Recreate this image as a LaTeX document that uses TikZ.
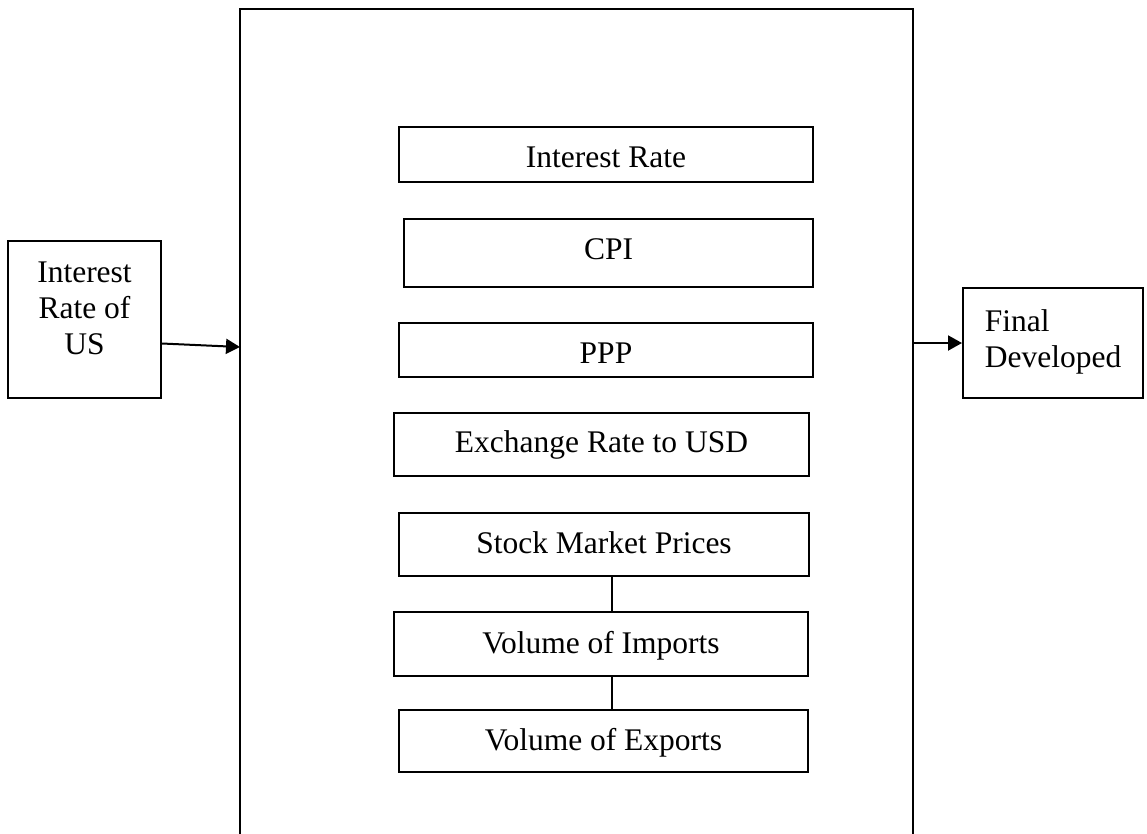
\documentclass[tikz,border=0pt]{standalone}
\usepackage{fontspec}
\setmainfont{Liberation Serif}
\usetikzlibrary{arrows.meta}
\tikzset{
  every node/.style={font=\fontsize{31.5}{36}\selectfont},
  box/.style={draw, line width=2pt, inner sep=0pt, text depth=0pt},
  frameline/.style={line width=2pt},
  conn/.style={line width=2pt},
  arr/.style={line width=2pt, -{Triangle[length=14pt,width=15pt]}}
}
\begin{document}
\begin{tikzpicture}[x=1pt,y=-1pt]
\useasboundingbox (0,0) rectangle (1147,833);
% outer frame (open at the bottom)
\draw[frameline] (240,840) -- (240,9) -- (913,9) -- (913,840);
\coordinate (inL) at (240,347);
\coordinate (outR) at (913,343);
% side boxes
\node[box, minimum width=153pt, minimum height=157pt, align=center, text depth=22pt] (us) at (84.5,319.5) {Interest\\Rate of\\US};
\node[box, minimum width=180pt, minimum height=110pt, align=left, text depth=8pt] (fin) at (1053,343) {Final\\Developed};
% inner boxes
\node[box, minimum width=414pt, minimum height=55pt, text height=25pt] (ir) at (606,154.5) {Interest Rate};
\node[box, minimum width=409pt, minimum height=68pt, text height=12pt] (cpi) at (608.5,253) {CPI};
\node[box, minimum width=414pt, minimum height=54pt, text height=26pt] (ppp) at (606,350) {PPP};
\node[box, minimum width=415pt, minimum height=63pt, text height=15pt] (ex) at (601.5,444.5) {Exchange Rate to USD};
\node[box, minimum width=410pt, minimum height=63pt, text height=17pt] (st) at (604,544.5) {Stock Market Prices};
\node[box, minimum width=414pt, minimum height=64pt, text height=18pt] (im) at (601,644) {Volume of Imports};
\node[box, minimum width=409pt, minimum height=62pt, text height=18pt] (exp) at (603.5,741) {Volume of Exports};
% connectors
\draw[conn] ([xshift=8pt]st.south) -- ([xshift=11pt]im.north);
\draw[conn] ([xshift=11pt]im.south) -- ([xshift=8.5pt]exp.north);
\draw[arr] ([yshift=-24pt]us.east) -- (inL);
\draw[arr] (outR) -- (fin.west);
\end{tikzpicture}
\end{document}
